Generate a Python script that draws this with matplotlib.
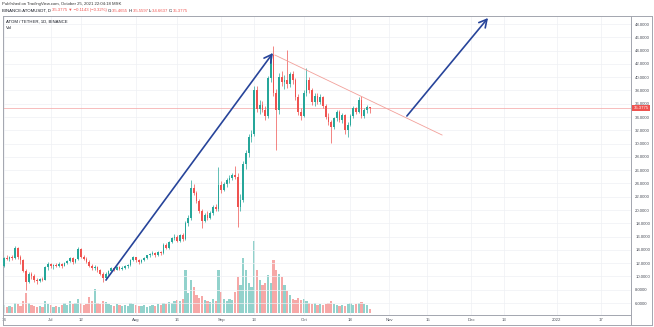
import matplotlib
matplotlib.use("Agg")
import matplotlib.pyplot as plt
import matplotlib.dates as mdates
import matplotlib.transforms as mtransforms
from matplotlib.lines import Line2D
import numpy as np
import pandas as pd

plt.rcParams['font.family'] = ['Liberation Sans', 'DejaVu Sans']

# ATOM/USDT daily candles, 2021-06-14 .. 2021-10-25
start = '2021-06-14'
opens = [11.6, 12.8, 12.6, 12.9, 12.8, 14.3, 12.9, 12.4, 10.8, 9.2,
         10.3, 10.0, 9.4, 9.3, 9.6, 9.5, 11.4, 11.9, 11.5, 11.7,
         11.6, 11.9, 11.6, 12.0, 12.3, 12.8, 12.1, 12.6, 14.2, 13.0,
         12.6, 12.2, 11.6, 11.2, 11.4, 10.9, 10.4, 9.7, 10.4, 10.8,
         11.2, 11.0, 11.4, 11.1, 11.3, 11.5, 11.7, 12.5, 12.9, 12.4,
         12.2, 12.5, 12.8, 13.2, 13.4, 13.6, 13.2, 13.7, 13.5, 14.8,
         14.3, 15.2, 15.8, 16.0, 15.4, 16.2, 15.6, 18.0, 18.8, 23.3,
         22.6, 21.3, 19.8, 18.4, 19.2, 18.8, 19.6, 20.4, 20.1, 23.8,
         23.0, 23.9, 24.5, 24.8, 25.2, 25.0, 20.5, 21.5, 27.0, 28.6,
         31.0, 31.5, 38.0, 35.2, 35.8, 35.0, 34.2, 39.8, 43.3, 37.6,
         35.0, 40.0, 39.2, 39.6, 38.9, 40.4, 39.6, 37.0, 34.8, 34.2,
         37.6, 39.6, 38.0, 36.2, 37.2, 36.3, 37.0, 35.6, 34.0, 33.2,
         32.5, 33.8, 34.7, 33.6, 34.3, 32.0, 32.8, 34.2, 35.3, 34.8,
         36.6, 34.2, 35.0, 35.4655]
highs = [13.0, 13.3, 13.1, 13.2, 14.6, 14.5, 13.2, 12.6, 11.1, 10.6,
         10.7, 10.3, 9.8, 9.8, 9.9, 11.6, 12.2, 12.0, 11.9, 12.0,
         12.1, 12.0, 12.2, 12.4, 12.9, 12.9, 12.7, 14.5, 14.3, 13.3,
         12.9, 12.4, 11.9, 11.7, 11.5, 11.1, 10.6, 10.6, 11.0, 11.4,
         11.4, 11.6, 11.6, 11.5, 11.7, 11.9, 12.7, 13.1, 13.0, 12.6,
         12.7, 12.9, 13.3, 13.6, 13.8, 13.7, 13.9, 13.9, 15.0, 15.1,
         15.4, 16.0, 16.4, 16.2, 16.4, 16.5, 18.4, 19.2, 24.5, 23.9,
         22.9, 21.6, 20.1, 19.6, 19.8, 19.9, 20.8, 20.9, 26.5, 24.4,
         24.2, 24.8, 25.3, 25.6, 26.6, 25.5, 22.4, 27.4, 29.0, 31.4,
         32.0, 38.6, 38.7, 36.6, 36.4, 35.6, 40.2, 43.6, 44.7, 38.2,
         40.6, 41.0, 40.3, 44.1, 40.8, 40.9, 39.9, 37.4, 35.3, 38.0,
         41.4, 40.0, 38.4, 37.6, 37.6, 37.4, 37.2, 35.9, 34.6, 33.6,
         34.0, 35.0, 35.0, 34.6, 34.5, 33.2, 34.5, 35.6, 35.5, 37.0,
         37.1, 35.3, 35.8, 35.5597]
lows = [11.4, 12.4, 12.3, 12.5, 12.6, 12.7, 11.9, 10.6, 7.9, 9.0,
        9.6, 9.2, 8.9, 9.1, 9.3, 9.4, 11.0, 11.2, 11.1, 11.4,
        11.4, 11.3, 11.5, 11.8, 12.1, 11.9, 12.0, 12.5, 12.8, 12.4,
        12.0, 11.4, 11.0, 10.9, 10.7, 10.2, 9.2, 9.5, 10.2, 10.6,
        10.8, 10.9, 10.9, 10.9, 11.1, 11.3, 11.6, 12.3, 12.2, 11.9,
        12.0, 12.3, 12.6, 13.0, 13.2, 13.0, 13.1, 13.3, 13.4, 14.1,
        14.2, 15.0, 15.5, 15.2, 15.2, 15.4, 15.5, 17.6, 18.5, 22.2,
        21.0, 19.5, 17.3, 18.2, 18.5, 18.6, 19.3, 19.8, 19.9, 22.6,
        22.8, 23.5, 24.1, 24.5, 24.6, 17.4, 19.8, 21.2, 26.2, 28.0,
        30.2, 31.2, 34.8, 34.4, 34.7, 33.6, 33.8, 39.2, 37.2, 29.0,
        34.5, 38.6, 38.2, 38.4, 38.5, 39.0, 36.6, 34.3, 33.6, 34.0,
        37.2, 37.6, 35.8, 35.7, 36.0, 35.9, 35.3, 33.7, 32.8, 30.1,
        32.2, 33.4, 33.2, 33.1, 31.5, 31.0, 32.6, 33.8, 34.4, 34.6,
        33.8, 33.9, 34.6, 34.6637]
closes = [12.8, 12.6, 12.9, 12.8, 14.3, 12.9, 12.4, 10.8, 9.2, 10.3,
          10.0, 9.4, 9.3, 9.6, 9.5, 11.4, 11.9, 11.5, 11.7, 11.6,
          11.9, 11.6, 12.0, 12.3, 12.8, 12.1, 12.6, 14.2, 13.0, 12.6,
          12.2, 11.6, 11.2, 11.4, 10.9, 10.4, 9.7, 10.4, 10.8, 11.2,
          11.0, 11.4, 11.1, 11.3, 11.5, 11.7, 12.5, 12.9, 12.4, 12.2,
          12.5, 12.8, 13.2, 13.4, 13.6, 13.2, 13.7, 13.5, 14.8, 14.3,
          15.2, 15.8, 16.0, 15.4, 16.2, 15.6, 18.0, 18.8, 23.3, 22.6,
          21.3, 19.8, 18.4, 19.2, 18.8, 19.6, 20.4, 20.1, 23.8, 23.0,
          23.9, 24.5, 24.8, 25.2, 25.0, 20.5, 21.5, 27.0, 28.6, 31.0,
          31.5, 38.0, 35.2, 35.8, 35.0, 34.2, 39.8, 43.3, 37.6, 35.0,
          40.0, 39.2, 39.6, 38.9, 40.4, 39.6, 37.0, 34.8, 34.2, 37.6,
          39.6, 38.0, 36.2, 37.2, 36.3, 37.0, 35.6, 34.0, 33.2, 32.5,
          33.8, 34.7, 33.6, 34.3, 32.0, 32.8, 34.2, 35.3, 34.8, 36.6,
          34.2, 35.0, 35.4918, 35.3775]
# daily volume, x100k ATOM
volume = [8, 6, 7, 6, 10, 9, 7, 12, 20, 10,
          8, 7, 6, 7, 6, 12, 9, 8, 6, 7,
          6, 8, 10, 8, 12, 9, 10, 14, 10, 8,
          9, 16, 12, 24, 10, 9, 12, 11, 9, 8,
          7, 9, 8, 7, 8, 7, 10, 9, 8, 7,
          7, 8, 6, 7, 8, 7, 9, 8, 10, 9,
          11, 10, 12, 13, 12, 14, 43, 20, 33, 26,
          18, 15, 17, 13, 12, 11, 14, 12, 43, 21,
          14, 12, 14, 13, 21, 36, 28, 55, 43, 30,
          26, 72, 43, 33, 28, 30, 38, 30, 53, 43,
          39, 36, 28, 22, 18, 14, 13, 15, 13, 14,
          12, 10, 9, 10, 8, 9, 8, 9, 10, 12,
          9, 8, 7, 8, 7, 9, 10, 8, 9, 10,
          11, 9, 8, 4]

date_ticks = ['2021-06-14', '2021-07-01', '2021-07-12', '2021-08-01', '2021-08-16',
              '2021-09-01', '2021-09-13', '2021-10-01', '2021-10-18', '2021-11-01',
              '2021-11-15', '2021-12-01', '2021-12-13', '2022-01-01', '2022-01-17']
date_labels = ['14', 'Jul', '12', 'Aug', '16', 'Sep', '13', 'Oct', '18', 'Nov',
               '15', 'Dec', '13', '2022', '17']
price_ticks = list(range(6, 50, 2))

last_price = 35.3775

# hand-drawn lines: (date, price) pairs
arrow_rally = (('2021-07-21 02:00', 9.46), ('2021-09-19 19:00', 43.63))
trend_line = (('2021-09-20 12:00', 43.33), ('2021-11-20 07:00', 31.29))
arrow_breakout = (('2021-11-07 12:00', 34.15), ('2021-12-07 00:00', 48.9))

UP = '#26a69a'
DOWN = '#ef5350'
DRAW = '#27449a'
TXT = '#131722'
FS = 3.1

o = np.array(opens); h = np.array(highs); l = np.array(lows); c = np.array(closes)
x0 = mdates.date2num(pd.Timestamp(start))
x = x0 + np.arange(len(closes))
up = c >= o
colors = np.where(up, UP, DOWN)

W, H = 654, 327
fig = plt.figure(figsize=(W / 100, H / 100), dpi=100)
rect = [3 / W, 1 - 315 / H, 628 / W, 299.5 / H]

# volume pane underneath
vax = fig.add_axes(rect)
vax.bar(x, volume, width=0.75, color=colors, alpha=0.5, linewidth=0)
vax.set_ylim(-2, 297.5)
vax.set_xlim(x0 - 0.36, x0 + 228.0)
vax.axis('off')

ax = fig.add_axes(rect, sharex=vax)
ax.patch.set_visible(False)
ax.set_ylim(4.195, 49.28)

for t in price_ticks:
    ax.axhline(t, color='#eef0f4', lw=0.5, zorder=0)
for t in date_ticks:
    ax.axvline(mdates.date2num(pd.Timestamp(t)), color='#eef0f4', lw=0.5, zorder=0)

ax.vlines(x, l, h, colors=colors, lw=0.5, zorder=2)
body = np.maximum(np.abs(c - o), 0.06)
ax.bar(x, body, bottom=np.minimum(o, c), width=0.62, color=colors, linewidth=0, zorder=3)

ax.axhline(last_price, color='#f4a3a3', lw=0.5, zorder=1)

def pts(seg):
    (d1, p1), (d2, p2) = seg
    return (mdates.date2num(pd.Timestamp(d1)), p1), (mdates.date2num(pd.Timestamp(d2)), p2)

a, b = pts(trend_line)
ax.plot([a[0], b[0]], [a[1], b[1]], color='#f2a09a', lw=0.6, zorder=4)
for seg in (arrow_rally, arrow_breakout):
    a, b = pts(seg)
    ax.annotate('', xy=b, xytext=a,
                arrowprops=dict(arrowstyle='->,head_length=0.55,head_width=0.3',
                                color=DRAW, lw=1.2, shrinkA=0, shrinkB=0,
                                mutation_scale=10), zorder=5)

ax.set_xticks([mdates.date2num(pd.Timestamp(t)) for t in date_ticks])
ax.set_xticklabels(date_labels)
ax.set_yticks(price_ticks)
ax.set_yticklabels([f'{t:.4f}' for t in price_ticks])
ax.yaxis.tick_right()
ax.tick_params(axis='both', length=0, labelsize=FS, labelcolor='#4a4e59')
ax.tick_params(axis='x', pad=2.2)
ax.tick_params(axis='y', pad=3)
for s in ax.spines.values():
    s.set_color('#a3a6af')
    s.set_linewidth(0.7)

# last price tag on the price scale
blend = mtransforms.blended_transform_factory(ax.transAxes, ax.transData)
ax.text(1.004, last_price, f'{last_price:.4f}', transform=blend, fontsize=FS,
        color='white', va='center', ha='left',
        bbox=dict(boxstyle='square,pad=0.25', fc=DOWN, ec='none'), zorder=6)

# outer frame around price scale and time scale
frame = '#a3a6af'
fig.add_artist(Line2D([652 / W, 652 / W], [1 - 15.5 / H, 1 - 325 / H], color=frame, lw=0.7))
fig.add_artist(Line2D([631 / W, 652 / W], [1 - 15.5 / H, 1 - 15.5 / H], color=frame, lw=0.7))
fig.add_artist(Line2D([3 / W, 652 / W], [1 - 325 / H, 1 - 325 / H], color=frame, lw=0.7))
fig.add_artist(Line2D([3 / W, 3 / W], [1 - 315 / H, 1 - 325 / H], color=frame, lw=0.7))
fig.add_artist(Line2D([631 / W, 631 / W], [1 - 315 / H, 1 - 325 / H], color=frame, lw=0.7))

# header
fig.text(2 / W, 1 - 4.5 / H, 'Published on TradingView.com, October 25, 2021 22:04:18 MSK',
         fontsize=FS, color='#333333', va='center', ha='left')
pieces = [('BINANCE:ATOMUSDT, D ', TXT), ('35.3775 \u25bc \u22120.1143 (\u22120.32%) ', DOWN),
          ('O:', TXT), ('35.4655 ', DOWN), ('H:', TXT), ('35.5597 ', DOWN),
          ('L:', TXT), ('34.6637 ', DOWN), ('C:', TXT), ('35.3775', DOWN)]
last = fig.text(2 / W, 1 - 10.5 / H, pieces[0][0], fontsize=FS, color=pieces[0][1],
                va='center', ha='left')
for s, col in pieces[1:]:
    last = ax.annotate(s, xy=(1, 0.5), xycoords=last, va='center', ha='left',
                       fontsize=FS, color=col, annotation_clip=False)

fig.text(6 / W, 1 - 22 / H, 'ATOM / TETHER, 1D, BINANCE', fontsize=FS, color=TXT,
         va='center', ha='left')
fig.text(6 / W, 1 - 28 / H, 'Vol', fontsize=FS, color=TXT, va='center', ha='left')

fig.savefig('out.png', dpi=100)
